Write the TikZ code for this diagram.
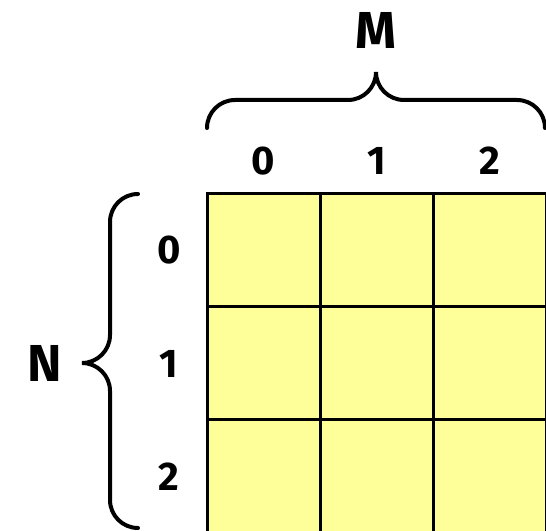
\documentclass[tikz,border=0pt]{standalone}
\usepackage{fontspec}
\setmainfont{Fira Sans}
\usepackage{tikz}
\usetikzlibrary{calc}
\usetikzlibrary{matrix}
\definecolor{cellyellow}{RGB}{255,255,153}

\begin{document}
\begin{tikzpicture}[x=1pt,y=1pt]
\useasboundingbox (0,0) rectangle (546,530);

\def\cell{113pt}
\def\lw{3pt}
\def\bw{4pt}
\def\rad{28}
\def\digfont{\fontsize{40}{48}\selectfont\bfseries}
\def\letfont{\fontsize{52}{60}\selectfont\bfseries}

\matrix (m)[matrix of nodes,nodes in empty cells,inner sep=0pt,outer sep=0pt,anchor=north west,
  column sep=-\lw,row sep=-\lw,
  nodes={draw,fill=cellyellow,line width=\lw,minimum size=\cell,inner sep=0pt}]
  at (205.5,337.5)
{
 & & \\
 & & \\
 & & \\
};

\node[font=\digfont] (c0) at ($(m-1-1.north)+(0,33)$) {0};
\node[font=\digfont] (c1) at ($(m-1-2.north)+(0,33)$) {1};
\node[font=\digfont] (c2) at ($(m-1-3.north)+(0,33)$) {2};

\node[font=\digfont] (r0) at ($(m-1-1.west)+(-38,0)$) {0};
\node[font=\digfont] (r1) at ($(m-2-1.west)+(-38,0)$) {1};
\node[font=\digfont] (r2) at ($(m-3-1.west)+(-38,0)$) {2};

\node[font=\letfont] (lM) at (376,500) {M};
\node[font=\letfont] (lN) at (45,167) {N};

\draw[line width=\bw,line cap=round] (207,402) arc[start angle=180,end angle=90,radius=\rad] -- (348,430)
  arc[start angle=270,end angle=360,radius=\rad] arc[start angle=180,end angle=270,radius=\rad]
  -- (517,430) arc[start angle=90,end angle=0,radius=\rad];
\draw[line width=\bw,line cap=round] (138,336) arc[start angle=90,end angle=180,radius=\rad] -- (110,195)
  arc[start angle=0,end angle=-90,radius=\rad] arc[start angle=90,end angle=0,radius=\rad]
  -- (110,30) arc[start angle=180,end angle=270,radius=\rad];

\end{tikzpicture}
\end{document}
